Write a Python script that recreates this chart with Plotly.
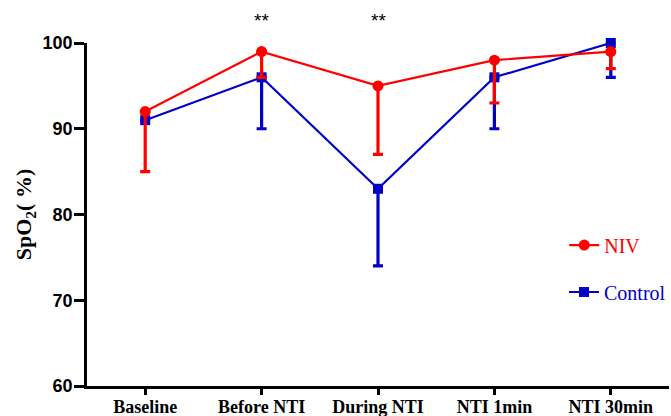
import plotly.graph_objects as go

categories = ["Baseline", "Before NTI", "During NTI", "NTI 1min", "NTI 30min"]
niv_mean = [92, 99, 95, 98, 99]
niv_lower = [85, 96, 87, 93, 97]
ctrl_mean = [91, 96, 83, 96, 100]
ctrl_lower = [91, 90, 74, 90, 96]
sig_cats = ["Before NTI", "During NTI"]
sig_text = "**"

RED = "#FF0000"
BLUE = "#0000C8"

xs = list(range(len(categories)))
fig = go.Figure()

fig.add_trace(go.Scatter(
    x=xs, y=ctrl_mean, name="Control", mode="lines+markers",
    line=dict(color=BLUE, width=2.2),
    marker=dict(symbol="square", size=10, color=BLUE),
    error_y=dict(type="data", symmetric=False,
                 array=[0] * len(ctrl_mean),
                 arrayminus=[m - l for m, l in zip(ctrl_mean, ctrl_lower)],
                 color=BLUE, thickness=3.2, width=5),
    cliponaxis=False, legend="legend2",
))
fig.add_trace(go.Scatter(
    x=xs, y=niv_mean, name="NIV", mode="lines+markers",
    line=dict(color=RED, width=2.2),
    marker=dict(symbol="circle", size=11, color=RED),
    error_y=dict(type="data", symmetric=False,
                 array=[0] * len(niv_mean),
                 arrayminus=[m - l for m, l in zip(niv_mean, niv_lower)],
                 color=RED, thickness=3.2, width=5),
    cliponaxis=False, legend="legend",
))

for c in sig_cats:
    fig.add_annotation(x=categories.index(c), y=1.067, xref="x", yref="paper",
                       yanchor="middle", text=sig_text, showarrow=False,
                       font=dict(family="Liberation Sans, Arial", size=19, color="black"))

fig.update_layout(
    width=671, height=416,
    margin=dict(l=87, r=0, t=43, b=30),
    plot_bgcolor="white", paper_bgcolor="white",
    showlegend=True,
    legend=dict(x=0.82, y=0.411, xanchor="left", yanchor="middle",
                font=dict(family="Liberation Serif, Times New Roman", size=20, color=RED),
                bgcolor="rgba(0,0,0,0)", itemwidth=30),
    legend2=dict(x=0.82, y=0.274, xanchor="left", yanchor="middle",
                 font=dict(family="Liberation Serif, Times New Roman", size=20, color=BLUE),
                 bgcolor="rgba(0,0,0,0)", itemwidth=30),
    xaxis=dict(
        range=[-0.5, 4.5], tickmode="array", tickvals=xs,
        ticktext=["<b>%s</b>" % c for c in categories],
        showline=True, linecolor="black", linewidth=2.5,
        ticks="outside", ticklen=6, tickwidth=2.5, tickcolor="black",
        ticklabelstandoff=-3, automargin=False,
        showgrid=False, zeroline=False,
        tickfont=dict(family="Liberation Serif, Times New Roman", size=18, color="black"),
    ),
    yaxis=dict(
        range=[60, 100], tickvals=[60, 70, 80, 90, 100],
        ticktext=["<b>%d</b>" % v for v in [60, 70, 80, 90, 100]],
        showline=True, linecolor="black", linewidth=2.5,
        ticks="outside", ticklen=10, tickwidth=2.5, tickcolor="black",
        ticklabelstandoff=-2, automargin=False,
        showgrid=False, zeroline=False,
        tickfont=dict(family="Liberation Sans, Arial", size=18, color="black"),
        title=dict(text="<b>SpO<sub>2</sub>( %)</b>", standoff=5,
                   font=dict(family="Liberation Serif, Times New Roman", size=22, color="black")),
    ),
)

fig.write_html(
    "out.html",
    config={"displayModeBar": False},
    post_script="document.body.style.margin='0px';document.body.style.overflow='hidden';",
)
